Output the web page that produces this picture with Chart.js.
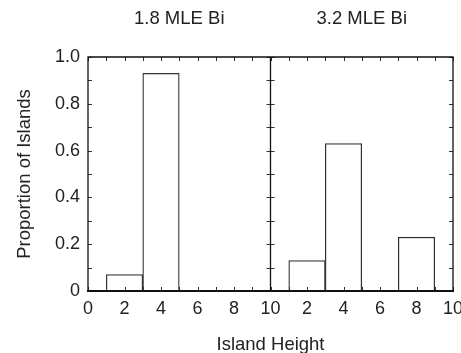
<!DOCTYPE html>
<html>
<head>
<meta charset="utf-8">
<script src="https://cdn.jsdelivr.net/npm/chart.js@4.4.0/dist/chart.umd.min.js"></script>
<style>
  html, body { margin: 0; padding: 0; background: #fff; }
  #wrap { width: 461px; height: 353px; }
</style>
</head>
<body>
<div id="wrap"><canvas id="grafica"></canvas></div>
<script>
  // panel titles
  const titulos = ["1.8 MLE Bi", "3.2 MLE Bi"];
  // left panel (1.8 MLE)
  const alturas_izq = [2, 4];
  const valores_izq = [0.07, 0.93];
  // right panel (3.2 MLE), drawn shifted by one panel width
  const alturas_der = [2, 4, 8];
  const valores_der = [0.13, 0.63, 0.23];
  const ancho_panel = 10;
  const ticks_y = [0, 0.2, 0.4, 0.6, 0.8, 1.0];

  const fuente = "'Liberation Sans', Arial, Helvetica, sans-serif";
  const colorTexto = '#222';

  const puntos_izq = alturas_izq.map((h, i) => ({ x: h, y: valores_izq[i] }));
  const puntos_der = alturas_der.map((h, i) => ({ x: h + ancho_panel, y: valores_der[i] }));

  // frame, divider, inward ticks and panel titles
  const marcoPlugin = {
    id: 'marco',
    afterDraw(chart) {
      const ctx = chart.ctx;
      const a = chart.chartArea;
      const xs = chart.scales.x;
      const ys = chart.scales.y;
      const xDiv = xs.getPixelForValue(ancho_panel);
      ctx.save();
      ctx.strokeStyle = '#333';
      ctx.lineWidth = 1;
      // inward ticks
      ctx.beginPath();
      for (let v = 0; v <= 2 * ancho_panel; v++) {
        const px = Math.round(xs.getPixelForValue(v)) + 0.5;
        ctx.moveTo(px, a.bottom); ctx.lineTo(px, a.bottom - 4);
        ctx.moveTo(px, a.top); ctx.lineTo(px, a.top + 4);
      }
      for (let k = 0; k <= 10; k++) {
        const py = Math.round(ys.getPixelForValue(k / 10)) + 0.5;
        ctx.moveTo(a.left, py); ctx.lineTo(a.left + 4, py);
        ctx.moveTo(xDiv - 4, py); ctx.lineTo(xDiv + 4, py);
        ctx.moveTo(a.right, py); ctx.lineTo(a.right - 4, py);
      }
      ctx.stroke();
      // frame
      ctx.strokeStyle = '#111';
      ctx.lineWidth = 1.3;
      ctx.beginPath();
      ctx.moveTo(a.left, a.bottom); ctx.lineTo(a.left, a.top);
      ctx.lineTo(a.right, a.top); ctx.lineTo(a.right, a.bottom);
      ctx.moveTo(xDiv, a.top); ctx.lineTo(xDiv, a.bottom);
      ctx.stroke();
      ctx.lineWidth = 2.2;
      ctx.beginPath();
      ctx.moveTo(a.left - 1, a.bottom); ctx.lineTo(a.right + 1, a.bottom);
      ctx.stroke();
      // panel titles
      ctx.fillStyle = colorTexto;
      ctx.font = '18.5px ' + fuente;
      ctx.textAlign = 'center';
      ctx.textBaseline = 'middle';
      ctx.fillText(titulos[0], xs.getPixelForValue(ancho_panel / 2), 19);
      ctx.fillText(titulos[1], xs.getPixelForValue(ancho_panel * 1.5), 19);
      ctx.restore();
    }
  };

  new Chart(document.getElementById('grafica'), {
    type: 'bar',
    data: {
      datasets: [
        {
          data: puntos_izq,
          backgroundColor: '#fff',
          borderColor: '#333',
          borderWidth: 1.3,
          borderSkipped: 'bottom',
          barPercentage: 1,
          categoryPercentage: 1,
          grouped: false
        },
        {
          data: puntos_der,
          backgroundColor: '#fff',
          borderColor: '#333',
          borderWidth: 1.3,
          borderSkipped: 'bottom',
          barPercentage: 1,
          categoryPercentage: 1,
          grouped: false
        }
      ]
    },
    options: {
      responsive: true,
      maintainAspectRatio: false,
      animation: false,
      layout: { padding: { top: 57, right: 8, bottom: 0, left: 0 } },
      plugins: {
        legend: { display: false },
        tooltip: { enabled: false }
      },
      scales: {
        x: {
          type: 'linear',
          min: 0,
          max: 2 * ancho_panel,
          offset: false,
          grid: { display: false, offset: false, drawTicks: false },
          border: { display: false },
          ticks: {
            stepSize: 2,
            autoSkip: false,
            maxRotation: 0,
            padding: 7,
            color: colorTexto,
            font: { family: fuente, size: 18 },
            callback: v => (v > ancho_panel ? v - ancho_panel : v)
          },
          title: {
            display: true,
            text: 'Island Height',
            color: colorTexto,
            font: { family: fuente, size: 18.5 },
            padding: { top: 12, bottom: -3 }
          },
          afterFit(scale) {
            scale.paddingRight = 0;
            scale.paddingLeft = 0;
            scale.height = 62;
          }
        },
        y: {
          min: 0,
          max: 1,
          afterBuildTicks(scale) {
            scale.ticks = ticks_y.map(v => ({ value: v }));
          },
          grid: { display: false, drawTicks: false },
          border: { display: false },
          ticks: {
            padding: 8,
            color: colorTexto,
            font: { family: fuente, size: 18 },
            callback: v => (v === 0 ? '0' : v.toFixed(1))
          },
          title: {
            display: true,
            text: 'Proportion of Islands',
            color: colorTexto,
            font: { family: fuente, size: 18.5 },
            padding: { top: 14, bottom: 4 }
          },
          afterFit(scale) {
            scale.width = 88;
          }
        }
      }
    },
    plugins: [marcoPlugin]
  });
</script>
</body>
</html>
